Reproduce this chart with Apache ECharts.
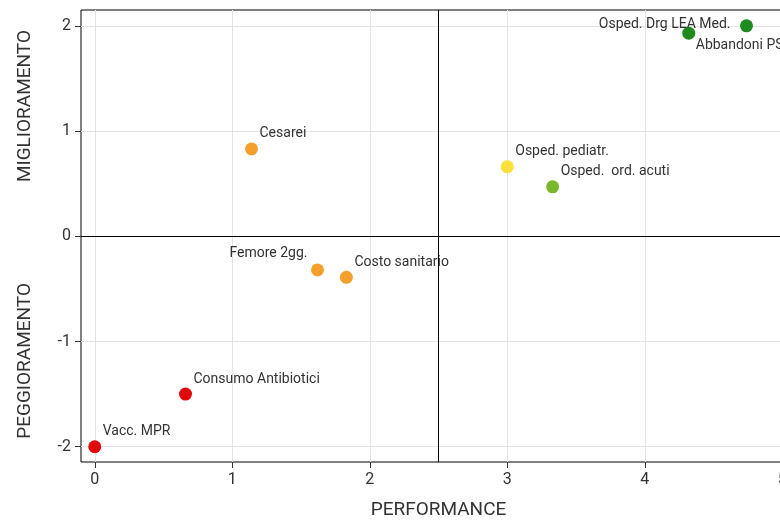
<!DOCTYPE html>
<html><head><meta charset="utf-8">
<script src="https://cdn.jsdelivr.net/npm/echarts@6/dist/echarts.min.js"></script>
<style>html,body{margin:0;padding:0;overflow:hidden;background:#fff}#c{width:780px;height:520px}</style>
</head><body><div id="c"></div>
<script>
const names = ['Vacc. MPR','Consumo Antibiotici','Femore 2gg.','Costo sanitario','Cesarei','Osped. pediatr.','Osped.  ord. acuti','Osped. Drg LEA Med.','Abbandoni PS'];
const performance = [0, 0.66, 1.62, 1.83, 1.14, 3.0, 3.33, 4.74, 4.32];
const miglioramento = [-2.0, -1.5, -0.32, -0.39, 0.83, 0.66, 0.47, 2.0, 1.93];
const colors = ['#e00a0a','#e00a0a','#f5a02c','#f5a02c','#f5a02c','#fde03a','#78b82a','#1f8b1f','#1f8b1f'];
const xTicks = [0,1,2,3,4,5];
const yTicks = [-2,-1,0,1,2];
const xSplit = 2.5, ySplit = 0;

const labelPlace = {
  'Femore 2gg.': {align:'right', offset:[-10,-16]},
  'Osped. Drg LEA Med.': {align:'right', offset:[-16,-1]},
  'Abbandoni PS': {align:'left', offset:[7,12]}
};
const data = names.map((n,i)=>{
  const p = labelPlace[n] || {align:'left', offset:[8,-15]};
  return {name:n, value:[performance[i], miglioramento[i]], itemStyle:{color:colors[i], opacity:1},
    label:{show:true, position:'inside', align:p.align, verticalAlign:'middle', offset:p.offset, formatter:n}};
});
const font = 'Roboto, "Noto Sans", sans-serif';
const chart = echarts.init(document.getElementById('c'));
chart.setOption({
  animation:false,
  grid:{left:81, right:-16, top:10, bottom:58, show:true, borderColor:'#000', borderWidth:1,
    containLabel:false, outerBoundsMode:'none'},
  xAxis:{type:'value', min:-0.1, max:5.1, interval:1,
    name:'PERFORMANCE', nameLocation:'middle', nameGap:39,
    nameTextStyle:{fontSize:19, color:'#333', fontFamily:font},
    axisLine:{show:false, onZero:false},
    axisTick:{show:true, length:6, lineStyle:{color:'#333'}, customValues:xTicks},
    axisLabel:{fontSize:16, color:'#333', fontFamily:font, margin:10, customValues:xTicks},
    splitLine:{show:true, lineStyle:{color:'#e4e4e4'}}},
  yAxis:{type:'value', min:-2.145, max:2.15, interval:1,
    axisLine:{show:false, onZero:false},
    axisTick:{show:true, length:6, lineStyle:{color:'#333'}, customValues:yTicks},
    axisLabel:{fontSize:16, color:'#333', fontFamily:font, margin:10, customValues:yTicks},
    splitLine:{show:true, lineStyle:{color:'#e4e4e4'}}},
  graphic:[
    {type:'text', left:16, top:30, rotation:Math.PI/2, style:{text:'MIGLIORAMENTO', fill:'#333', font:'19px '+font}},
    {type:'text', left:16, top:283, rotation:Math.PI/2, style:{text:'PEGGIORAMENTO', fill:'#333', font:'19px '+font}}
  ],
  series:[{type:'scatter', symbolSize:13, data:data,
    label:{color:'#333', fontSize:14, fontFamily:font},
    markLine:{silent:true, symbol:'none', label:{show:false}, lineStyle:{color:'#000', width:1, type:'solid'},
      emphasis:{disabled:true},
      data:[{xAxis:xSplit},{yAxis:ySplit}]}
  }]
});
</script></body></html>
